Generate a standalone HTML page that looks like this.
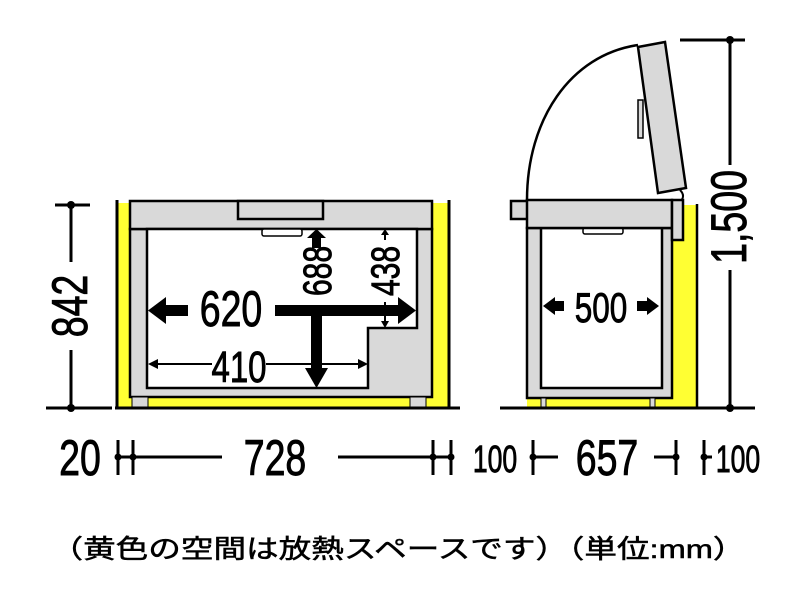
<!DOCTYPE html>
<html><head><meta charset="utf-8"><style>
html,body{margin:0;padding:0;background:#fff}
svg{display:block}
text{font-family:"Liberation Sans",sans-serif;fill:#000}
.n{stroke:#000;stroke-width:0.9}
</style></head><body>
<svg width="800" height="600" viewBox="0 0 800 600" xmlns="http://www.w3.org/2000/svg">
<!-- LEFT UNIT -->
<rect x="118" y="203" width="13" height="205" fill="#ffff33"/>
<rect x="432" y="203" width="16" height="205" fill="#ffff33"/>
<rect x="130" y="396" width="302" height="12" fill="#ffff33"/>
<line x1="117" y1="200" x2="117" y2="409" stroke="#000" stroke-width="3"/>
<line x1="449" y1="200" x2="449" y2="409" stroke="#000" stroke-width="3"/>
<rect x="130" y="229" width="302" height="168" fill="#d9d9d9" stroke="#000" stroke-width="2.5"/>
<rect x="132" y="397" width="16" height="11" fill="#d9d9d9" stroke="#000" stroke-width="1"/>
<rect x="410" y="397" width="16" height="11" fill="#d9d9d9" stroke="#000" stroke-width="1"/>
<rect x="130" y="201" width="302" height="28" fill="#d9d9d9" stroke="#000" stroke-width="2.5"/>
<rect x="238" y="201" width="85" height="18" fill="#d9d9d9" stroke="#000" stroke-width="2.5"/>
<polygon points="147,229 417,229 417,328 368,328 368,388 147,388" fill="#fff" stroke="#000" stroke-width="2.5"/>
<rect x="262" y="229" width="40" height="7" rx="2" fill="#fff" stroke="#000" stroke-width="1.5"/>
<line x1="46" y1="408" x2="112" y2="408" stroke="#000" stroke-width="3"/>
<line x1="115" y1="408" x2="460" y2="408" stroke="#000" stroke-width="3"/>
<!-- 842 -->
<line x1="55" y1="205" x2="90" y2="205" stroke="#000" stroke-width="3"/>
<circle cx="71" cy="205" r="4"/><circle cx="71" cy="408" r="4"/>
<line x1="71" y1="205" x2="71" y2="262" stroke="#000" stroke-width="3"/>
<line x1="71" y1="350" x2="71" y2="408" stroke="#000" stroke-width="3"/>
<text class="n" transform="translate(87,306) rotate(-90) scale(0.75,1)" font-size="50" text-anchor="middle">842</text>
<!-- 620 -->
<rect x="163" y="305" width="25" height="11"/>
<polygon points="148,310.5 166,297 166,324"/>
<rect x="275" y="305" width="125" height="11"/>
<polygon points="416,310.5 398,297 398,324"/>
<text class="n" transform="translate(231,326) scale(0.75,1)" font-size="50" text-anchor="middle">620</text>
<!-- 688 -->
<rect x="311" y="310" width="11" height="60"/>
<polygon points="316.5,388 305,368 328,368"/>
<rect x="312" y="236" width="9" height="12"/>
<polygon points="316.5,229 307,238 326,238"/>
<text class="n" transform="translate(331,271) rotate(-90) scale(0.75,1)" font-size="40" text-anchor="middle">688</text>
<!-- 438 -->
<line x1="385" y1="232" x2="385" y2="240" stroke="#000" stroke-width="2"/>
<polygon points="385,229 381,235 389,235"/>
<line x1="385" y1="302" x2="385" y2="326" stroke="#000" stroke-width="2"/>
<polygon points="385,328 381,321 389,321"/>
<text class="n" transform="translate(399,271) rotate(-90) scale(0.75,1)" font-size="40" text-anchor="middle">438</text>
<!-- 410 -->
<line x1="150" y1="364" x2="212" y2="364" stroke="#000" stroke-width="2"/>
<line x1="266" y1="364" x2="366" y2="364" stroke="#000" stroke-width="2"/>
<polygon points="148,364 158,359 158,369"/>
<polygon points="368,364 358,359 358,369"/>
<text class="n" transform="translate(239,382) scale(0.75,1)" font-size="44" text-anchor="middle">410</text>
<!-- RIGHT UNIT -->
<rect x="672" y="205" width="25" height="203" fill="#ffff33"/>
<rect x="527" y="397" width="145" height="11" fill="#ffff33"/>
<line x1="697" y1="204" x2="697" y2="409" stroke="#000" stroke-width="2.5"/>
<path d="M527,200 C527,120 570,55 638,45" fill="#fff" stroke="#000" stroke-width="2.5"/>
<polygon points="638,47 665,42 686,188 658,193" fill="#d9d9d9" stroke="#000" stroke-width="2.5"/>
<rect x="638" y="100" width="5" height="38" fill="#d9d9d9" stroke="#000" stroke-width="1.5"/>
<path d="M680,190 Q686,196 680,202" fill="none" stroke="#000" stroke-width="2"/>
<rect x="527" y="228" width="145" height="170" fill="#d9d9d9" stroke="#000" stroke-width="2.5"/>
<rect x="541" y="228" width="121" height="160" fill="#fff" stroke="#000" stroke-width="2.5"/>
<rect x="583" y="228" width="40" height="6" rx="2" fill="#fff" stroke="#000" stroke-width="1.5"/>
<rect x="511" y="201" width="17" height="18" fill="#d9d9d9" stroke="#000" stroke-width="2.5"/>
<rect x="527" y="200" width="145" height="28" fill="#d9d9d9" stroke="#000" stroke-width="2.5"/>
<rect x="672" y="200" width="11" height="40" fill="#d9d9d9" stroke="#000" stroke-width="2.5"/>
<rect x="541" y="398" width="5" height="10" fill="#d9d9d9" stroke="#000" stroke-width="1"/>
<rect x="650" y="398" width="5" height="10" fill="#d9d9d9" stroke="#000" stroke-width="1"/>
<line x1="500" y1="408" x2="755" y2="408" stroke="#000" stroke-width="3"/>
<!-- 500 -->
<rect x="552" y="301" width="12" height="10"/>
<polygon points="543,306 555,297 555,315"/>
<rect x="637" y="301" width="12" height="10"/>
<polygon points="659,306 647,297 647,315"/>
<text class="n" transform="translate(601,322) scale(0.75,1)" font-size="42" text-anchor="middle">500</text>
<!-- 1500 -->
<line x1="680" y1="40" x2="745" y2="40" stroke="#000" stroke-width="3"/>
<circle cx="730" cy="40" r="4"/><circle cx="730" cy="408" r="4"/>
<line x1="730" y1="40" x2="730" y2="165" stroke="#000" stroke-width="3"/>
<line x1="730" y1="270" x2="730" y2="408" stroke="#000" stroke-width="3"/>
<text class="n" transform="translate(746,217) rotate(-90) scale(0.75,1)" font-size="50" text-anchor="middle">1,500</text>
<!-- BOTTOM DIMENSIONS -->
<g stroke="#000" stroke-width="3">
<line x1="118" y1="440" x2="118" y2="475"/>
<line x1="133" y1="440" x2="133" y2="475"/>
<line x1="118" y1="457" x2="222" y2="457"/>
<line x1="338" y1="457" x2="451" y2="457"/>
<line x1="433" y1="440" x2="433" y2="475"/>
<line x1="451" y1="440" x2="451" y2="475"/>
<line x1="533" y1="440" x2="533" y2="475"/>
<line x1="533" y1="457" x2="558" y2="457"/>
<line x1="654" y1="457" x2="676" y2="457"/>
<line x1="676" y1="440" x2="676" y2="475"/>
<line x1="704" y1="440" x2="704" y2="475"/>
<line x1="704" y1="457" x2="712" y2="457"/>
</g>
<circle cx="118" cy="457" r="3.5"/><circle cx="133" cy="457" r="3.5"/>
<circle cx="433" cy="457" r="3.5"/><circle cx="451" cy="457" r="3.5"/>
<circle cx="533" cy="457" r="3.5"/><circle cx="676" cy="457" r="3.5"/><circle cx="704" cy="457" r="3.5"/>
<text class="n" transform="translate(80,475) scale(0.75,1)" font-size="50" text-anchor="middle">20</text>
<text class="n" transform="translate(275,475) scale(0.75,1)" font-size="50" text-anchor="middle">728</text>
<text class="n" transform="translate(495,472) scale(0.7,1)" font-size="38" text-anchor="middle">100</text>
<text class="n" transform="translate(607,475) scale(0.75,1)" font-size="50" text-anchor="middle">657</text>
<text class="n" transform="translate(738,472) scale(0.7,1)" font-size="38" text-anchor="middle">100</text>
<!-- CAPTION -->
<text x="398" y="558" font-size="26" text-anchor="middle" stroke="#000" stroke-width="0.5" style="font-family:'Liberation Sans','Noto Sans CJK JP',sans-serif" textLength="695" lengthAdjust="spacingAndGlyphs">（黄色の空間は放熱スペースです）（単位:mm）</text>
</svg>
</body></html>
